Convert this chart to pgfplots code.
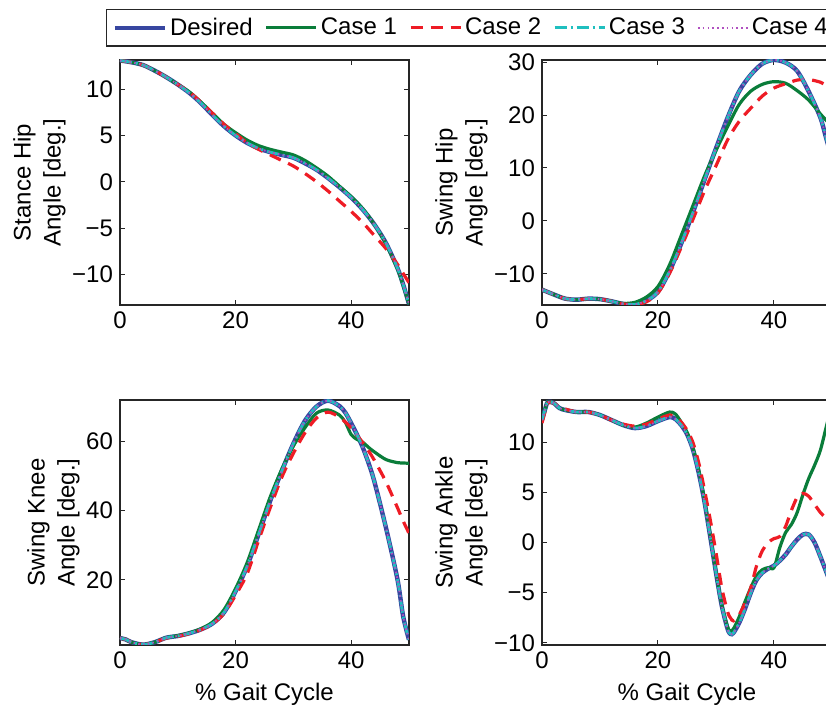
\documentclass[border=0pt]{standalone}
\usepackage{fontspec}
\setmainfont{Liberation Sans}
\usepackage{pgfplots}
\usepackage{pgfplotstable}
\pgfplotsset{compat=1.18}

\definecolor{cdes}{RGB}{55,70,160}
\definecolor{cgreen}{RGB}{10,125,58}
\definecolor{cred}{RGB}{238,28,37}
\definecolor{ccyan}{RGB}{31,191,191}
\definecolor{cmag}{RGB}{176,80,192}

% t  desired  case1  case2   (case 3 and 4 lie on the desired curve)
\pgfplotstableread{
t    des    c1     c2
0    13.1   13.1   13.1
2    12.9   12.9   12.9
4    12.6   12.6   12.6
6    12.0   12.0   12.0
8    11.3   11.3   11.3
10   10.5   10.5   10.5
12   9.6    9.7    9.7
14   8.5    8.6    8.6
16   7.2    7.4    7.4
18   6.0    6.2    6.2
20   5.0    5.3    5.2
22   4.2    4.5    4.2
24   3.6    3.9    3.5
26   3.2    3.5    2.9
28   2.9    3.2    2.3
30   2.6    2.9    1.7
32   2.0    2.3    0.9
34   1.3    1.5    0.0
36   0.4    0.6    -1.0
38   -0.6   -0.5   -2.1
40   -1.7   -1.6   -3.2
42   -3.0   -2.9   -4.4
44   -4.6   -4.6   -5.8
46   -6.6   -6.7   -7.2
48   -9.3   -9.4   -8.9
49   -11.1  -11.2  -9.9
50   -13.2  -13.2  -10.9
}\stancehip

\pgfplotstableread{
t    des    c1     c2
0    -13.0  -13.0  -13.0
2    -13.9  -13.9  -13.9
4    -14.7  -14.7  -14.7
6    -14.9  -14.9  -14.9
8    -14.7  -14.7  -14.7
10   -14.8  -14.8  -14.8
12   -15.2  -15.2  -15.2
14   -15.7  -15.6  -15.7
16   -15.8  -15.4  -15.8
18   -15.1  -14.4  -15.3
20   -13.4  -12.4  -13.6
22   -9.5   -8.3   -9.9
24   -4.3   -2.8   -5.0
26   1.5    2.8    0.2
28   7.7    8.4    5.6
30   13.7   13.3   10.4
32   19.5   17.8   15.3
34   24.5   22.0   18.8
36   27.6   24.5   21.3
38   29.7   25.8   23.6
40   30.4   26.3   25.1
42   29.9   26.0   25.9
44   28.3   24.6   26.6
46   24.4   22.8   26.7
48   19.5   20.2   26.2
49   15.6   19.0   25.6
50   11.8   17.8   25.0
}\swinghip

\pgfplotstableread{
t    des    c1     c2
0    3.2    3.2    3.2
1    2.8    2.8    2.8
2    2.0    2.0    2.0
4    1.3    1.3    1.3
6    2.0    2.0    2.0
8    3.3    3.3    3.2
10   3.8    3.9    3.7
12   4.6    4.7    4.5
14   5.7    5.9    5.6
16   7.4    7.8    7.3
18   10.6   11.4   10.3
20   16.7   17.5   15.6
22   24.0   25.0   21.8
24   33.3   34.5   31.5
26   42.9   44.0   40.9
28   51.5   52.0   49.7
30   59.4   58.7   56.6
32   66.0   64.0   62.5
34   70.1   68.2   66.8
36   71.8   69.1   68.5
38   70.2   67.6   67.0
39   68.3   65.5   65.6
40   65.3   62.0   63.9
41   62.0   60.6   61.8
42   58.3   59.8   59.7
43   53.8   58.3   57.3
44   48.5   57.0   54.6
46   35.2   54.8   48.4
48   20.2   53.9   40.9
49   9.4    53.8   37.0
50   2.7    53.7   33.5
}\swingknee

\pgfplotstableread{
t    des    c1     c2
0    12.2   12.2   11.9
0.5  13.2   13.2   13.0
1    14.0   14.0   13.9
2    13.9   13.9   13.9
3    13.4   13.4   13.5
4    13.2   13.2   13.3
6    13.0   13.0   13.0
8    13.0   13.0   13.0
10   12.7   12.7   12.7
12   12.2   12.2   12.2
14   11.7   11.7   11.8
16   11.4   11.5   11.6
18   11.6   11.9   11.8
20   12.1   12.5   12.3
22   12.5   13.0   12.7
23   12.3   12.8   12.5
24   11.7   12.0   12.0
25   10.8   11.0   11.2
26   9.3    9.5    10.0
27   7.0    7.3    8.0
28   4.1    4.3    5.3
29   0.6    0.8    2.3
30   -3.0   -2.9   -1.0
31   -6.3   -6.2   -4.5
32   -8.6   -8.4   -6.9
32.5 -9.1   -8.8   -7.5
33   -9.0   -8.6   -7.8
34   -8.0   -7.4   -7.2
35   -6.6   -5.9   -6.0
36   -5.0   -4.5   -4.5
37   -3.7   -3.3   -2.3
38   -3.0   -2.7   -0.8
39   -2.6   -2.5   0.0
40   -2.3   -2.5   0.4
41   -1.8   -0.5   0.6
42   -1.2   1.0    1.6
43   -0.4   1.8    3.2
44   0.3    3.0    4.5
45   0.8    4.8    4.9
46   0.8    6.4    4.6
47   0.0    7.7    3.8
48   -1.4   9.2    3.0
49   -2.9   11.5   2.4
50   -4.4   13.8   1.8
}\swingankle

\pgfplotsset{
  gait/.style={
    scale only axis, width=144.5pt, height=122.5pt,
    xmin=0, xmax=50, xtick={0,20,40},
    tick align=inside, major tick length=2.5pt,
    axis line style={line width=0.6pt, black!85},
    every tick/.style={black!85, line width=0.5pt},
    /pgf/number format/assume math mode=true,
    tick label style={font=\fontsize{12}{14}\selectfont},
    label style={font=\fontsize{12}{15}\selectfont},
    ylabel style={align=center},
    ylabel shift=-3.5pt,
  },
  pdes/.style={cdes, line width=2.2pt, smooth},
  pc1/.style={cgreen, line width=1.6pt, smooth},
  pc2/.style={cred, line width=1.6pt, smooth, dash pattern=on 6pt off 4pt},
  pc3/.style={ccyan, line width=1.4pt, smooth, dash pattern=on 6pt off 2pt on 1pt off 2pt},
  pc4/.style={cmag, line width=0.9pt, smooth, dash pattern=on 0.8pt off 1.6pt},
}

\begin{document}
\begin{tikzpicture}[trim left=0pt, trim right=413pt]
\path (0,0) rectangle (413pt,352pt);

% stance hip
\begin{axis}[gait, at={(60pt,199.5pt)}, anchor=south west,
  ymin=-13.3, ymax=13.15, ytick={-10,-5,0,5,10},
  yticklabels={−10,−5,0,5,10},
  ylabel={Stance Hip\\Angle [deg.]},
  legend columns=5,
  legend image code/.code={\draw[#1] (0pt,0pt) -- (25pt,0pt);},
  legend style={at={(-0.0484,1.208)}, anchor=north west,
    draw=black!85, line width=0.6pt,
    font=\fontsize{12}{14}\selectfont,
    nodes={inner xsep=1.5pt},
    /tikz/every even column/.append style={column sep=4.5pt}},
]
\addplot[pdes] table[x=t, y=des] {\stancehip};
\addplot[pc1] table[x=t, y=c1] {\stancehip};
\addplot[pc2] table[x=t, y=c2] {\stancehip};
\addplot[pc3] table[x=t, y=des] {\stancehip};
\addplot[pc4] table[x=t, y=des] {\stancehip};
\legend{Desired, Case 1, Case 2, Case 3, Case 4}
\end{axis}

% swing hip
\begin{axis}[gait, at={(271pt,199.5pt)}, anchor=south west, width=145pt,
  ymin=-15.9, ymax=30.4, ytick={-10,0,10,20,30},
  yticklabels={−10,0,10,20,30},
  ylabel={Swing Hip\\Angle [deg.]},
]
\addplot[pdes] table[x=t, y=des] {\swinghip};
\addplot[pc1] table[x=t, y=c1] {\swinghip};
\addplot[pc2] table[x=t, y=c2] {\swinghip};
\addplot[pc3] table[x=t, y=des] {\swinghip};
\addplot[pc4] table[x=t, y=des] {\swinghip};
\end{axis}

% swing knee
\begin{axis}[gait, at={(60pt,29.5pt)}, anchor=south west,
  ymin=1.2, ymax=72, ytick={20,40,60},
  ylabel={Swing Knee\\Angle [deg.]},
  xlabel={\% Gait Cycle},
]
\addplot[pdes] table[x=t, y=des] {\swingknee};
\addplot[pc1] table[x=t, y=c1] {\swingknee};
\addplot[pc2] table[x=t, y=c2] {\swingknee};
\addplot[pc3] table[x=t, y=des] {\swingknee};
\addplot[pc4] table[x=t, y=des] {\swingknee};
\end{axis}

% swing ankle
\begin{axis}[gait, at={(271pt,29.5pt)}, anchor=south west, width=145pt,
  ymin=-10.2, ymax=14.2, ytick={-10,-5,0,5,10},
  yticklabels={−10,−5,0,5,10},
  ylabel={Swing Ankle\\Angle [deg.]},
  xlabel={\% Gait Cycle},
]
\addplot[pdes] table[x=t, y=des] {\swingankle};
\addplot[pc1] table[x=t, y=c1] {\swingankle};
\addplot[pc2] table[x=t, y=c2] {\swingankle};
\addplot[pc3] table[x=t, y=des] {\swingankle};
\addplot[pc4] table[x=t, y=des] {\swingankle};
\end{axis}
\end{tikzpicture}
\end{document}
